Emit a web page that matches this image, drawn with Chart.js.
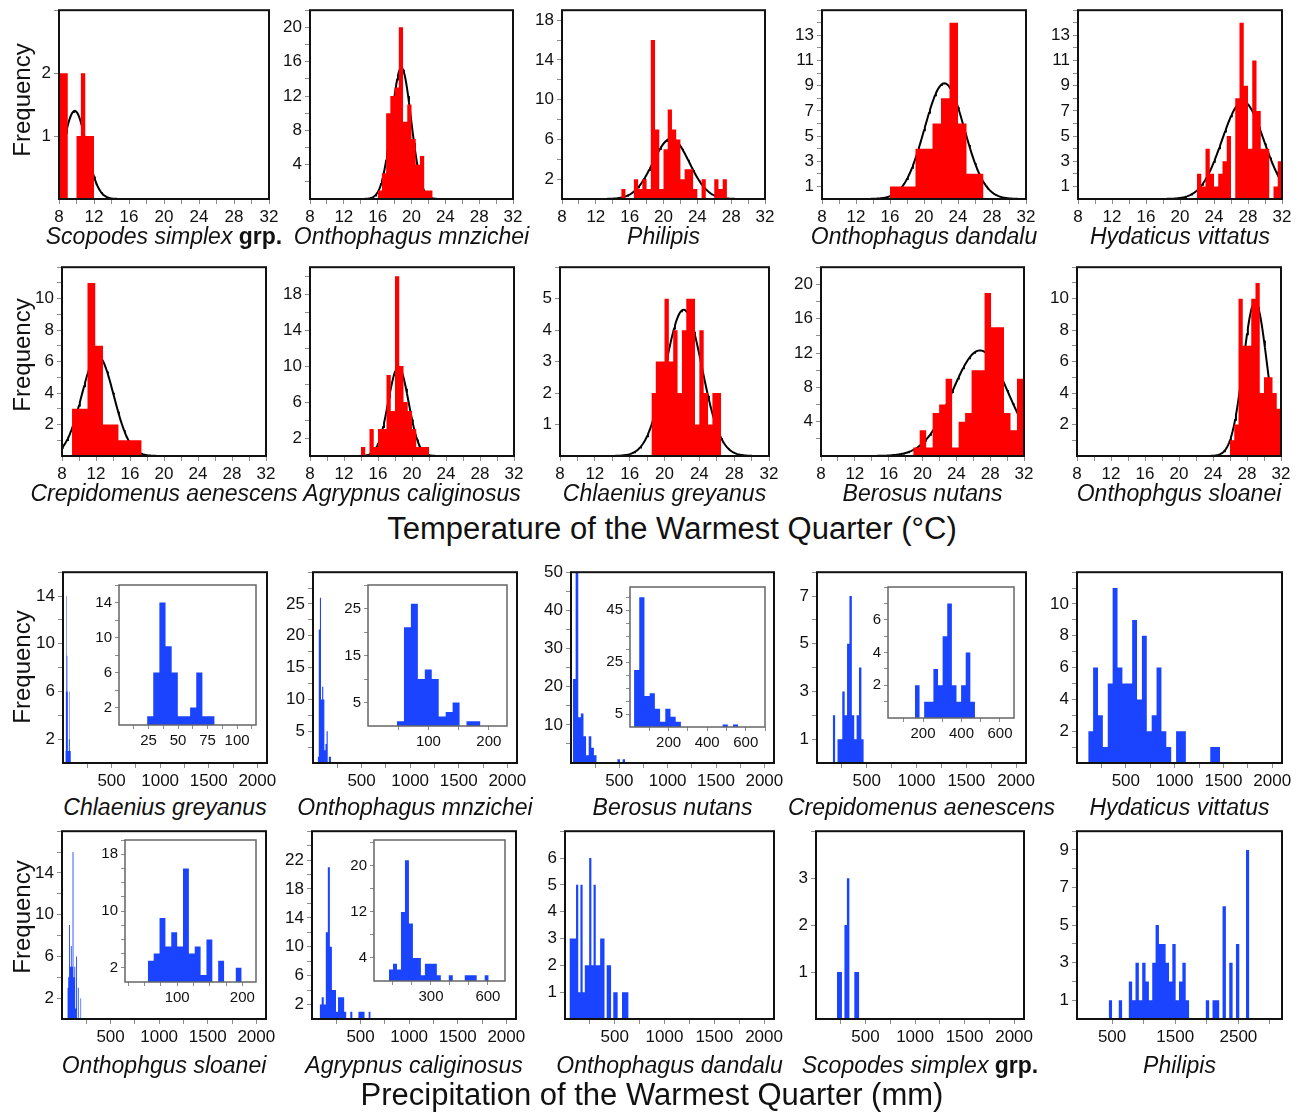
<!DOCTYPE html>
<html>
<head>
<meta charset="utf-8">
<script src="https://cdn.jsdelivr.net/npm/chart.js@4.4.1/dist/chart.umd.min.js"></script>
<style>
  body { margin: 0; background: #fff; width: 1301px; height: 1112px; position: relative; overflow: hidden;
         font-family: 'Liberation Sans', Arial, sans-serif; color: #111; }
  canvas { position: absolute; }
  .name { position: absolute; font-size: 23px; line-height: 1; white-space: nowrap; transform: translate(-50%, -50%); }
  .name b { font-style: normal; }
  .ylab { position: absolute; font-size: 24px; line-height: 1; white-space: nowrap; transform: translate(-50%, -50%) rotate(-90deg); }
  .title { position: absolute; font-size: 31px; line-height: 1; white-space: nowrap; transform: translate(-50%, -50%); }
</style>
</head>
<body>
<script>
'use strict';

/* ── Temperature of the Warmest Quarter (°C): bin counts ─────────────── */
const tScopodes  = [2, 2, 0, 0, 1, 2, 1, 1];
const tOnthMnz   = [1, 3, 10, 12, 13, 20, 9, 11, 7, 4, 5, 1, 1];
const tPhilipis  = [1, 0, 0, 2, 1, 2, 1, 16, 7, 1, 5, 9, 7, 6, 2, 3, 3, 1, 0, 2, 0, 0, 2, 1, 2];
const tOnthDand  = [1, 1, 1, 4, 4, 6, 8, 14, 6, 2, 2];
const tHydaticus = [2, 1, 4, 2, 1, 2, 3, 5, 0, 8, 14, 9, 4, 11, 7, 4, 4, 0, 1, 3];
const tCrepid    = [3, 3, 11, 7, 2, 2, 1, 1, 1];
const tAgrypnus  = [1, 0, 3, 1, 3, 3, 9, 5, 20, 10, 6, 5, 3, 1, 1, 1];
const tChlaenius = [2, 3, 3, 5, 3, 4, 2, 4, 5, 5, 1, 4, 2, 1, 2, 2];
const tBerosus   = [1, 3, 1, 5, 6, 9, 1, 4, 5, 10, 10, 19, 15, 15, 5, 3, 9, 3];
const tOnthSloan = [1, 2, 10, 7, 7, 10, 11, 4, 5, 5, 4, 3];

const tempNames    = ['Scopodes simplex grp.', 'Onthophagus mnzichei', 'Philipis', 'Onthophagus dandalu', 'Hydaticus vittatus',
                      'Crepidomenus aenescens', 'Agrypnus caliginosus', 'Chlaenius greyanus', 'Berosus nutans', 'Onthophgus sloanei'];
const tempCounts   = [tScopodes, tOnthMnz, tPhilipis, tOnthDand, tHydaticus, tCrepid, tAgrypnus, tChlaenius, tBerosus, tOnthSloan];
const tempBinStart = [8, 16, 15, 16, 22, 9.18, 14, 18.5, 18.9, 26];
const tempBinWidth = [0.5, 0.5, 0.5, 1, 0.5, 0.91, 0.5, 0.5, 0.767, 0.5];
// fitted normal curves: mean, sd, height
const tempFitMean  = [9.8, 18.8, 20.9, 22.4, 27.4, 12.2, 18.4, 22.2, 26.8, 28.95];
const tempFitSd    = [1.33, 1.15, 2.15, 2.35, 2.45, 1.88, 1.2, 2.1, 3.3, 1.38];
const tempFitPeak  = [1.4, 15.3, 6.07, 9.19, 7.74, 6.37, 9.9, 4.65, 12.3, 9.8];
const tempXLabels  = [8, 12, 16, 20, 24, 28, 32];
const tempYMax     = [3, 22, 19, 15, 15, 12, 21, 6, 22, 12];
const tempYStep    = [1, 2, 2, 1, 1, 1, 2, 1, 2, 1];
const tempYLabels  = [[1, 2], [4, 8, 12, 16, 20], [2, 6, 10, 14, 18], [1, 3, 5, 7, 9, 11, 13], [1, 3, 5, 7, 9, 11, 13],
                      [2, 4, 6, 8, 10], [2, 6, 10, 14, 18], [1, 2, 3, 4, 5], [4, 8, 12, 16, 20], [2, 4, 6, 8, 10]];

/* ── Precipitation of the Warmest Quarter (mm): bin counts ───────────── */
const pChlaenius = [1, 6, 14, 9, 6, 1, 1, 2, 6, 1, 1];
const pOnthMnz   = [1, 21, 26, 10, 12, 10, 2, 3, 5, 0, 1, 1];
const pBerosus   = [22, 50, 12, 13, 7, 2, 7, 4, 2, 0, 0, 0, 0, 0, 0, 0, 0, 1, 0, 1];
const pCrepid    = [2, 0, 1, 1, 3, 2, 5, 7, 2, 1, 2, 4, 1];
const pHydaticus = [2, 6, 3, 1, 5, 11, 6, 5, 5, 9, 4, 8, 2, 3, 6, 2, 1, 0, 2, 2, 0, 0, 0, 0, 0, 1, 1];
const pOnthSloan = [3, 4, 9, 5, 7, 5, 16, 4, 5, 1, 6, 0, 3, 0, 0, 2];
const pAgrypnus  = [2, 3, 2, 12, 21, 10, 4, 4, 1, 3, 3, 3, 1, 0, 0, 1, 0, 0, 0, 1, 1, 1, 0, 0, 1];
const pOnthDand  = [3, 3, 3, 5, 1, 5, 1, 2, 2, 6, 2, 5, 2, 2, 3, 3, 0, 2, 2, 0, 1, 1, 0, 0, 1, 1, 1];
const pScopodes  = [1, 1, 0, 2, 3, 0, 0, 1, 1];
const pPhilipis  = [1, 0, 0, 1, 0, 0, 2, 1, 3, 1, 3, 2, 1, 3, 5, 4, 4, 3, 2, 4, 1, 2, 3, 1, 0,
                    0, 0, 0, 0, 1, 0, 1, 1, 0, 6, 0, 3, 0, 4, 0, 0, 9];

const precNames    = ['Chlaenius greyanus', 'Onthophagus mnzichei', 'Berosus nutans', 'Crepidomenus aenescens', 'Hydaticus vittatus',
                      'Onthophgus sloanei', 'Agrypnus caliginosus', 'Onthophagus dandalu', 'Scopodes simplex grp.', 'Philipis'];
const precCounts   = [pChlaenius, pOnthMnz, pBerosus, pCrepid, pHydaticus, pOnthSloan, pAgrypnus, pOnthDand, pScopodes, pPhilipis];
const precBinStart = [23.8, 48, 21, 158, 115, 55, 79, 45, 212, 447];
const precBinWidth = [5.2, 11.5, 27, 24, 50, 9, 21, 22, 25, 53];
const precXMin     = [0, 0, 0, 0, 0, 0, 0, 0, 0, -55];
const precXMax     = [2100, 2100, 2100, 2100, 2100, 2100, 2100, 2100, 2100, 3190];
const precXStep    = [250, 250, 250, 250, 250, 250, 250, 250, 250, 500];
const precXLabels  = [[500, 1000, 1500, 2000], [500, 1000, 1500, 2000], [500, 1000, 1500, 2000], [500, 1000, 1500, 2000],
                      [500, 1000, 1500, 2000], [500, 1000, 1500, 2000], [500, 1000, 1500, 2000], [500, 1000, 1500, 2000],
                      [500, 1000, 1500, 2000], [500, 1500, 2500]];
const precYMax     = [16, 30, 50, 8, 12, 18, 26, 7, 4, 10];
const precYStep    = [2, 2.5, 5, 1, 1, 2, 2, 1, 1, 1];
const precYLabels  = [[2, 6, 10, 14], [5, 10, 15, 20, 25], [10, 20, 30, 40, 50], [1, 3, 5, 7], [2, 4, 6, 8, 10],
                      [2, 6, 10, 14], [2, 6, 10, 14, 18, 22], [1, 2, 3, 4, 5, 6], [1, 2, 3], [1, 3, 5, 7, 9]];

// zoomed insets (same counts as their panel)
const insetOf      = [0, 1, 2, 3, 5, 6];
const insetXMin    = [0, 0, 0, 18, 20, 0];
const insetXMax    = [116, 230, 700, 673, 221, 690];
const insetXStep   = [12.5, 50, 100, 100, 25, 100];
const insetXLabels = [[25, 50, 75, 100], [100, 200], [200, 400, 600], [200, 400, 600], [100, 200], [300, 600]];
const insetYMax    = [16, 30, 54, 8, 20, 24.5];
const insetYStep   = [2, 5, 5, 1, 2, 4];
const insetYLabels = [[2, 6, 10, 14], [5, 15, 25], [5, 25, 45], [2, 4, 6], [2, 10, 18], [4, 12, 20]];

/* ── layout (page pixels) ────────────────────────────────────────────── */
const rowTop    = [9, 266, 571, 830];
const rowBottom = [199, 456, 763, 1019];
const colLeft   = [[59, 310, 562, 822, 1078], [62, 310, 560, 821, 1077], [63, 313, 571, 817, 1077], [62, 312, 565, 816, 1077]];
const colRight  = [[269, 513, 765, 1026, 1282], [266, 514, 769, 1024, 1281], [267, 517, 774, 1026, 1282], [266, 516, 774, 1024, 1282]];
const nameY     = [236, 493, 807, 1065];
const freqY     = [100, 355, 667, 917];
const insetBox  = [[119, 583, 256, 725], [368, 583, 507, 726], [630, 585, 765, 727], [888, 585, 1014, 718],
                   [125, 838, 256, 982], [374, 838, 505, 981]];

const FONT = "'Liberation Sans', Arial, sans-serif";
const RED = '#ff0000';
const BLUE = '#1a44ff';

const framePlugin = {
  id: 'frame',
  beforeDatasetsDraw(chart, args, o) {
    if (!o.fill) return;
    const a = chart.chartArea, ctx = chart.ctx;
    ctx.save();
    ctx.fillStyle = o.fill;
    ctx.fillRect(a.left, a.top, a.right - a.left, a.bottom - a.top);
    ctx.restore();
  },
  afterDatasetsDraw(chart, args, o) {
    const a = chart.chartArea, ctx = chart.ctx;
    ctx.save();
    ctx.strokeStyle = o.color;
    ctx.lineWidth = o.width;
    ctx.strokeRect(a.left, a.top, a.right - a.left, a.bottom - a.top);
    ctx.restore();
  }
};

function stepsFrom(start, width, counts) {
  const pts = counts.map((c, i) => ({ x: start + i * width, y: c }));
  pts.push({ x: start + counts.length * width, y: counts[counts.length - 1] });
  return pts;
}

function fitCurve(mean, sd, peak, min, max) {
  const pts = [];
  for (let i = 0; i <= 240; i++) {
    const x = min + (max - min) * i / 240;
    pts.push({ x, y: peak * Math.exp(-((x - mean) ** 2) / (2 * sd * sd)) });
  }
  return pts;
}

function tickList(from, step, max) {
  const out = [];
  for (let v = from; v <= max + 1e-9; v += step) out.push(Math.round(v * 1000) / 1000);
  return out;
}

function axis(min, max, ticks, labels, size, tickLen, fit) {
  return {
    type: 'linear', min, max,
    afterBuildTicks: s => { s.ticks = ticks.map(v => ({ value: v })); },
    afterFit: fit,
    grid: { drawOnChartArea: false, drawTicks: true, tickLength: tickLen, color: '#8c8c8c', lineWidth: 1 },
    border: { display: false },
    ticks: {
      autoSkip: false, maxRotation: 0, padding: 3, color: '#111',
      font: { family: FONT, size },
      callback: v => labels.includes(v) ? String(v) : ''
    }
  };
}

function addHist(box, pad, o) {
  const [l, t, r, b] = box, [pl, pr, pt, pb] = pad;
  const w = r - l + pl + pr, h = b - t + pt + pb;
  const cv = document.createElement('canvas');
  cv.width = w; cv.height = h;
  cv.style.cssText = `left:${l - pl}px;top:${t - pt}px;width:${w}px;height:${h}px`;
  document.body.appendChild(cv);

  const datasets = [{
    data: stepsFrom(o.start, o.width, o.counts), stepped: true, fill: 'origin',
    backgroundColor: o.color, borderColor: 'rgba(0,0,0,0)', borderWidth: 0, pointRadius: 0
  }];
  if (o.fit) datasets.push({ data: o.fit, borderColor: '#000', borderWidth: 2, pointRadius: 0, fill: false, tension: 0 });

  new Chart(cv, {
    type: 'line',
    data: { datasets },
    plugins: [framePlugin],
    options: {
      responsive: false, animation: false, events: [],
      layout: { padding: { top: pt, right: pr, left: 0, bottom: 0 } },
      plugins: {
        legend: { display: false }, tooltip: { enabled: false },
        frame: { color: o.frameColor, width: o.frameWidth, fill: o.bg }
      },
      scales: {
        x: axis(o.xMin, o.xMax, o.xTicks, o.xLabels, o.font, o.tickLen, s => { s.height = pb; }),
        y: axis(0, o.yMax, o.yTicks, o.yLabels, o.font, o.tickLen, s => { s.width = pl; })
      }
    }
  });
}

function addText(cls, html, x, y) {
  const d = document.createElement('div');
  d.className = cls;
  d.innerHTML = html;
  d.style.left = x + 'px';
  d.style.top = y + 'px';
  document.body.appendChild(d);
}

function nameHtml(s) {
  return s.endsWith(' grp.') ? `<i>${s.slice(0, -5)}</i> <b>grp.</b>` : `<i>${s}</i>`;
}

const MAIN_PAD = [46, 16, 12, 30];

// temperature rows
tempCounts.forEach((counts, i) => {
  const row = Math.floor(i / 5), col = i % 5;
  const box = [colLeft[row][col], rowTop[row], colRight[row][col], rowBottom[row]];
  addHist(box, MAIN_PAD, {
    counts, start: tempBinStart[i], width: tempBinWidth[i], color: RED,
    fit: fitCurve(tempFitMean[i], tempFitSd[i], tempFitPeak[i], 8, 32),
    xMin: 8, xMax: 32, xTicks: tickList(8, 2, 32), xLabels: tempXLabels,
    yMax: tempYMax[i], yTicks: tickList(tempYStep[i], tempYStep[i], tempYMax[i]), yLabels: tempYLabels[i],
    font: 17, tickLen: 5, frameColor: '#111', frameWidth: 2
  });
  addText('name', nameHtml(tempNames[i]), (box[0] + box[2]) / 2, nameY[row]);
});

// precipitation rows
precCounts.forEach((counts, i) => {
  const row = 2 + Math.floor(i / 5), col = i % 5;
  const box = [colLeft[row][col], rowTop[row], colRight[row][col], rowBottom[row]];
  addHist(box, MAIN_PAD, {
    counts, start: precBinStart[i], width: precBinWidth[i], color: BLUE,
    xMin: precXMin[i], xMax: precXMax[i], xTicks: tickList(precXStep[i], precXStep[i], precXMax[i]), xLabels: precXLabels[i],
    yMax: precYMax[i], yTicks: tickList(precYStep[i], precYStep[i], precYMax[i]), yLabels: precYLabels[i],
    font: 17, tickLen: 5, frameColor: '#111', frameWidth: 2
  });
  addText('name', nameHtml(precNames[i]), (box[0] + box[2]) / 2, nameY[row]);
});

// insets
insetOf.forEach((p, k) => {
  addHist(insetBox[k], [34, 12, 10, 22], {
    counts: precCounts[p], start: precBinStart[p], width: precBinWidth[p], color: BLUE,
    xMin: insetXMin[k], xMax: insetXMax[k], xTicks: tickList(insetXStep[k], insetXStep[k], insetXMax[k]), xLabels: insetXLabels[k],
    yMax: insetYMax[k], yTicks: tickList(insetYStep[k], insetYStep[k], insetYMax[k]), yLabels: insetYLabels[k],
    font: 15, tickLen: 4, frameColor: '#666', frameWidth: 1.5, bg: '#fff'
  });
});

freqY.forEach(y => addText('ylab', 'Frequency', 22, y));
addText('title', 'Temperature of the Warmest Quarter (°C)', 672, 528);
addText('title', 'Precipitation of the Warmest Quarter (mm)', 652, 1094);
</script>
</body>
</html>
